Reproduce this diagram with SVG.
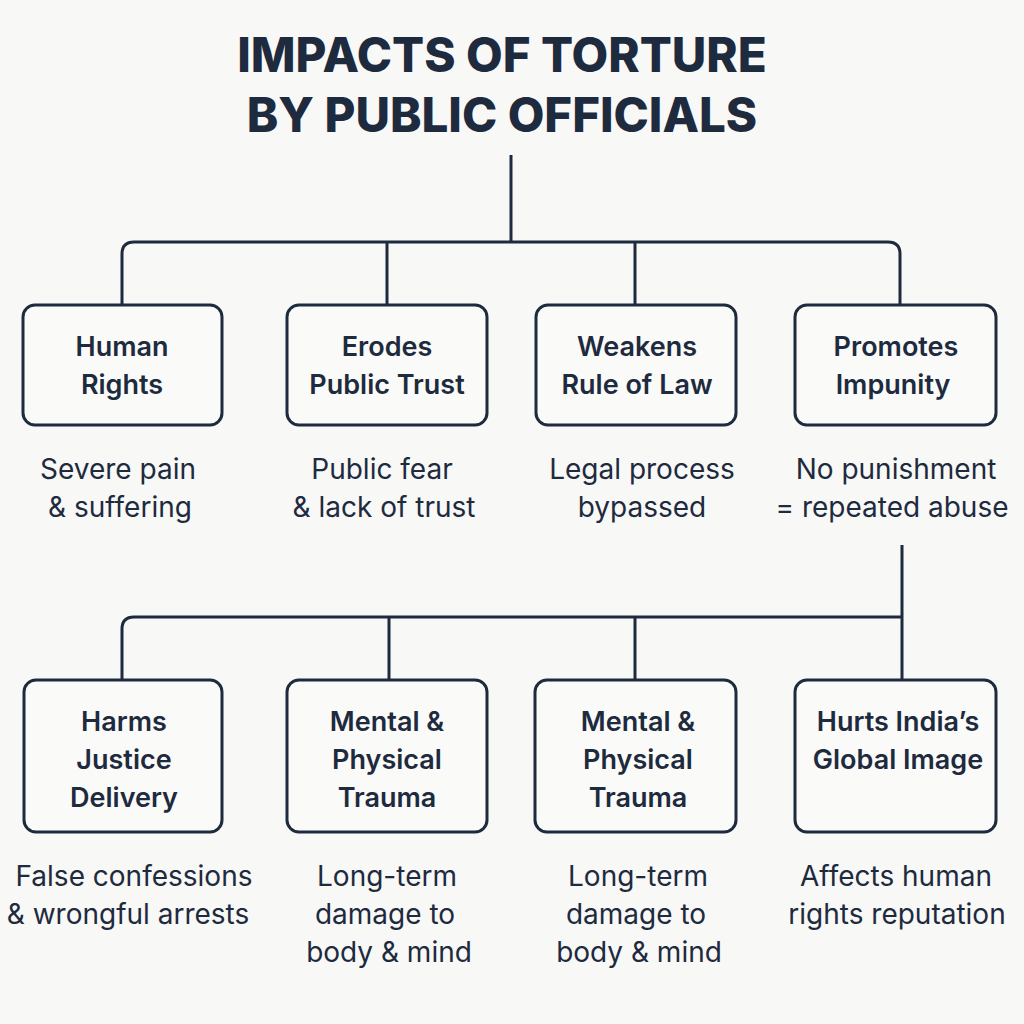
<svg xmlns="http://www.w3.org/2000/svg" width="1024" height="1024" viewBox="0 0 1024 1024">
<style>
.t{font-family:Inter,"Liberation Sans",sans-serif;font-weight:800;font-size:47.5px;fill:#1e2a3e;text-anchor:middle}
.b{fill:#fafaf8;stroke:#1e2a3e;stroke-width:3}
.l{font-family:Inter,"Liberation Sans",sans-serif;font-weight:600;font-size:27px;fill:#1e2a3e;text-anchor:middle}
.d{font-family:Inter,"Liberation Sans",sans-serif;font-weight:400;font-size:28px;fill:#1e2a3e;text-anchor:middle}
.c{fill:none;stroke:#1e2a3e;stroke-width:3}
</style>
<rect width="1024" height="1024" fill="#f8f8f6"/>
<text class="t" x="502" y="72">IMPACTS OF TORTURE</text>
<text class="t" x="502" y="132">BY PUBLIC OFFICIALS</text>
<g id="connectors">
<path class="c" d="M511 155V242M122 305V254Q122 242 134 242H888Q900 242 900 254V305M387 242V305M635 242V305"/>
<path class="c" d="M902 545V680M122 680V629Q122 617 134 617H902M389 617V680M635 617V680"/>
</g>
<g id="n1"><rect class="b" x="23" y="305" width="199" height="120" rx="12"/><text class="l" x="122" y="356">Human</text><text class="l" x="122" y="394">Rights</text><text class="d" x="118" y="479">Severe pain</text><text class="d" x="120" y="517">&amp; suffering</text></g>
<g id="n2"><rect class="b" x="287" y="305" width="200" height="120" rx="12"/><text class="l" x="387" y="356">Erodes</text><text class="l" x="387" y="394">Public Trust</text><text class="d" x="382" y="479">Public fear</text><text class="d" x="384" y="517">&amp; lack of trust</text></g>
<g id="n3"><rect class="b" x="536" y="305" width="200" height="120" rx="12"/><text class="l" x="637" y="356">Weakens</text><text class="l" x="637" y="394">Rule of Law</text><text class="d" x="642" y="479">Legal process</text><text class="d" x="642" y="517">bypassed</text></g>
<g id="n4"><rect class="b" x="795" y="305" width="201" height="120" rx="12"/><text class="l" x="896" y="356">Promotes</text><text class="l" x="893" y="394">Impunity</text><text class="d" x="896" y="479">No punishment</text><text class="d" x="892" y="517">= repeated abuse</text></g>
<g id="n5"><rect class="b" x="24" y="680" width="198" height="152" rx="12"/><text class="l" x="124" y="731">Harms</text><text class="l" x="124" y="769">Justice</text><text class="l" x="124" y="807">Delivery</text><text class="d" x="134" y="886">False confessions</text><text class="d" x="128" y="924">&amp; wrongful arrests</text></g>
<g id="n6"><rect class="b" x="287" y="680" width="200" height="152" rx="12"/><text class="l" x="387" y="731">Mental &amp;</text><text class="l" x="387" y="769">Physical</text><text class="l" x="387" y="807">Trauma</text><text class="d" x="387" y="886">Long-term</text><text class="d" x="385" y="924">damage to</text><text class="d" x="389" y="962">body &amp; mind</text></g>
<g id="n7"><rect class="b" x="535" y="680" width="201" height="152" rx="12"/><text class="l" x="638" y="731">Mental &amp;</text><text class="l" x="638" y="769">Physical</text><text class="l" x="638" y="807">Trauma</text><text class="d" x="638" y="886">Long-term</text><text class="d" x="636" y="924">damage to</text><text class="d" x="639" y="962">body &amp; mind</text></g>
<g id="n8"><rect class="b" x="795" y="680" width="201" height="152" rx="12"/><text class="l" x="898" y="731">Hurts India’s</text><text class="l" x="898" y="769">Global Image</text><text class="d" x="896" y="886">Affects human</text><text class="d" x="897" y="924">rights reputation</text></g>
</svg>
